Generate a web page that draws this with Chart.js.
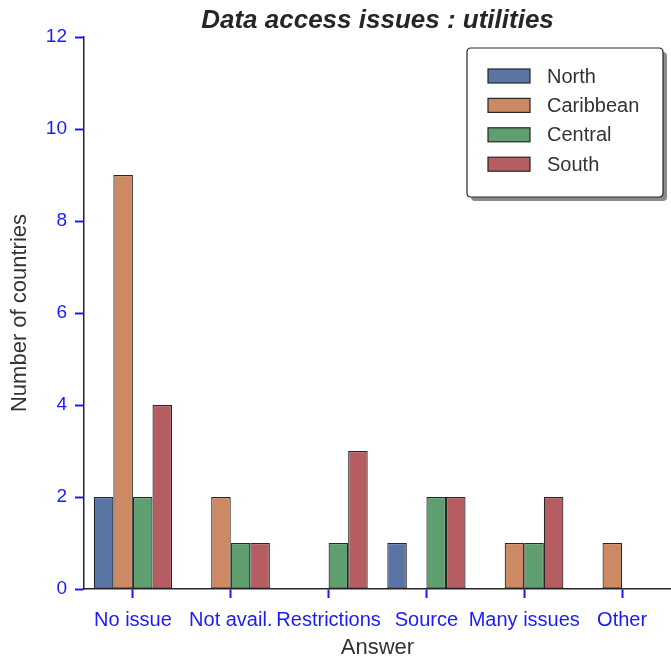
<!DOCTYPE html>
<html>
<head>
<meta charset="utf-8">
<script src="https://cdn.jsdelivr.net/npm/chart.js@4/dist/chart.umd.min.js"></script>
<style>
  html, body { margin: 0; padding: 0; background: #fff; }
  #wrap { width: 671px; height: 657px; }
</style>
</head>
<body>
<div id="wrap"><canvas id="myChart" width="671" height="657"></canvas></div>
<script>
var categories = ['No issue', 'Not avail.', 'Restrictions', 'Source', 'Many issues', 'Other'];
var regions = ['North', 'Caribbean', 'Central', 'South'];
var north     = [2, 0, 0, 1, 0, 0];
var caribbean = [9, 2, 0, 0, 1, 1];
var central   = [2, 1, 1, 2, 1, 0];
var south     = [4, 1, 3, 2, 2, 0];
var yTicks = [0, 2, 4, 6, 8, 10, 12];

var colors = ['#5975a4', '#cc8963', '#5f9e6e', '#b55d60'];
var tickBlue = '#1a1aff';
var fontFamily = '"Liberation Sans", Arial, sans-serif';

function toBars(arr){
    // zero counts draw nothing
    return arr.map(function(v){ return v === 0 ? null : v; });
}

var series = [north, caribbean, central, south];
var datasets = [];
for (var i = 0; i < regions.length; i++) {
    datasets.push({
        label: regions[i],
        data: toBars(series[i]),
        backgroundColor: colors[i],
        borderColor: '#262626',
        borderWidth: 1.2,
        borderSkipped: false,
        categoryPercentage: 0.8,
        barPercentage: 1.0
    });
}

var decorPlugin = {
    id: 'decor',
    afterDraw: function(chart){
        var c = chart.ctx, area = chart.chartArea;
        c.save();
        // title
        c.fillStyle = '#262626';
        c.font = 'italic bold 26px ' + fontFamily;
        c.textAlign = 'center';
        c.textBaseline = 'alphabetic';
        c.fillText('Data access issues : utilities', (area.left + area.right) / 2, 28);

        // legend box with shadow
        var bx = 467, by = 48, bw = 196, bh = 149, r = 4;
        function rr(x, y){
            c.beginPath();
            c.moveTo(x + r, y);
            c.lineTo(x + bw - r, y);
            c.quadraticCurveTo(x + bw, y, x + bw, y + r);
            c.lineTo(x + bw, y + bh - r);
            c.quadraticCurveTo(x + bw, y + bh, x + bw - r, y + bh);
            c.lineTo(x + r, y + bh);
            c.quadraticCurveTo(x, y + bh, x, y + bh - r);
            c.lineTo(x, y + r);
            c.quadraticCurveTo(x, y, x + r, y);
            c.closePath();
        }
        rr(bx + 4, by + 4);
        c.fillStyle = '#8c8c8c';
        c.fill();
        rr(bx, by);
        c.fillStyle = '#ffffff';
        c.fill();
        c.lineWidth = 1.2;
        c.strokeStyle = '#262626';
        c.stroke();

        c.font = '20px ' + fontFamily;
        c.textAlign = 'left';
        c.textBaseline = 'middle';
        for (var k = 0; k < chart.data.datasets.length; k++) {
            var ds = chart.data.datasets[k];
            var cy = 76 + k * 29.4;
            c.fillStyle = ds.backgroundColor;
            c.fillRect(488, cy - 7, 42, 14);
            c.strokeStyle = '#262626';
            c.lineWidth = 1.2;
            c.strokeRect(488, cy - 7, 42, 14);
            c.fillStyle = '#333333';
            c.fillText(ds.label, 547, cy + 1);
        }
        c.restore();
    }
};

var ctx = document.getElementById('myChart').getContext('2d');
var myChart = new Chart(ctx, {
    type: 'bar',
    data: { labels: categories, datasets: datasets },
    options: {
        responsive: false,
        animation: false,
        layout: { padding: { top: 37, right: 0, left: 0, bottom: 0 } },
        plugins: {
            legend: { display: false },
            title: { display: false },
            tooltip: { enabled: false }
        },
        scales: {
            x: {
                offset: true,
                grid: {
                    offset: false,
                    drawOnChartArea: false,
                    tickLength: 9,
                    tickWidth: 2,
                    tickColor: tickBlue
                },
                border: { color: '#262626', width: 1.5 },
                ticks: {
                    color: tickBlue,
                    font: { family: fontFamily, size: 20 },
                    padding: 10,
                    maxRotation: 0,
                    autoSkip: false
                },
                title: {
                    display: true,
                    text: 'Answer',
                    color: '#333333',
                    font: { family: fontFamily, size: 22 },
                    padding: { top: 0, bottom: -4 }
                },
                afterFit: function(scale){ scale.height = 68; }
            },
            y: {
                min: 0,
                max: 12,
                afterBuildTicks: function(scale){
                    scale.ticks = yTicks.map(function(v){ return { value: v }; });
                },
                grid: {
                    drawOnChartArea: false,
                    tickLength: 9,
                    tickWidth: 2,
                    tickColor: tickBlue
                },
                border: { color: '#262626', width: 1.5 },
                ticks: {
                    color: tickBlue,
                    font: { family: fontFamily, size: 19 },
                    padding: 8
                },
                title: {
                    display: true,
                    text: 'Number of countries',
                    color: '#333333',
                    font: { family: fontFamily, size: 22 },
                    padding: { top: 7, bottom: 0 }
                },
                afterFit: function(scale){ scale.width = 84; }
            }
        }
    },
    plugins: [decorPlugin]
});
</script>
</body>
</html>
